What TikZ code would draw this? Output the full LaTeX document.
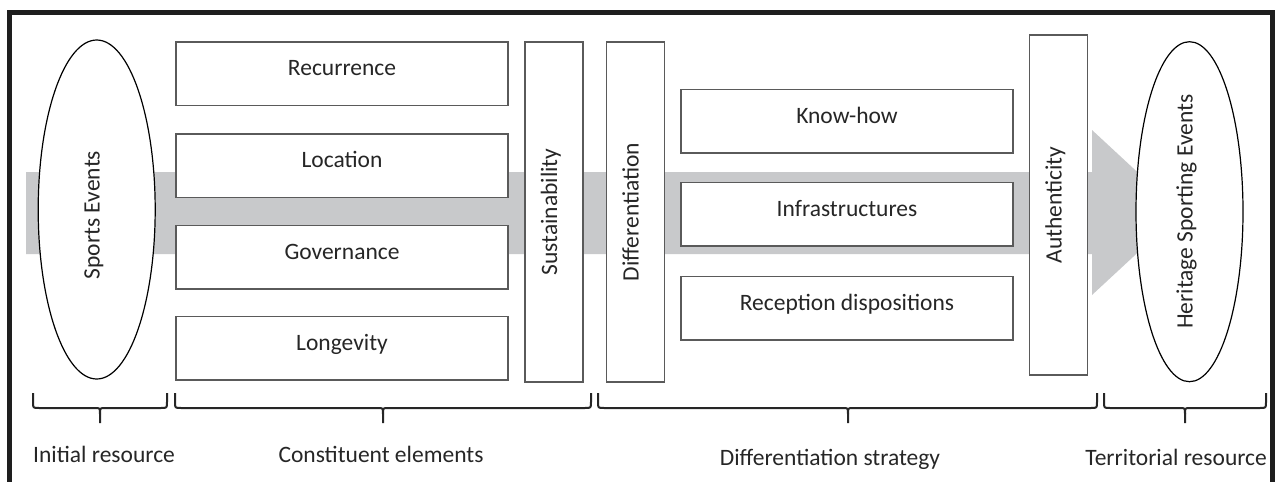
\documentclass[tikz,border=0pt]{standalone}
\usepackage{fontspec}
\setmainfont{Carlito}
\usetikzlibrary{shapes.geometric}
\definecolor{bandgray}{HTML}{C8C9CB}
\definecolor{boxline}{HTML}{5A5A5A}
\definecolor{ink}{HTML}{262626}
\definecolor{framecol}{HTML}{1E1E1E}

% curly group brace: left end, middle tip, right end (x positions)
\newcommand{\groupbrace}[3]{%
  \draw[bracestyle] (#1,393) -- (#1,402) .. controls (#1,408) .. ({#1+6},408)
    -- ({#2-5},408) .. controls (#2,408) .. (#2,414) -- (#2,423);
  \draw[bracestyle] (#2,414) .. controls (#2,408) .. ({#2+5},408)
    -- ({#3-6},408) .. controls (#3,408) .. (#3,402) -- (#3,393);
}

\begin{document}
\begin{tikzpicture}[x=1pt,y=-1pt,
  every node/.style={font=\fontsize{23.5}{28}\selectfont, text=ink},
  hbox/.style={draw=boxline, line width=1.5pt, fill=white, rectangle,
    minimum width=332pt, minimum height=63.5pt,
    text height=16pt, text depth=12pt, inner sep=0pt},
  vbox/.style={draw=boxline, line width=1.5pt, fill=white, rectangle,
    minimum width=340pt, minimum height=58pt, rotate=90,
    text height=17pt, text depth=11pt, inner sep=0pt},
  oval/.style={draw=black, line width=1.2pt, fill=white, ellipse,
    rotate=90, inner sep=0pt, text height=17pt, text depth=11pt},
  bracestyle/.style={draw=ink, line width=2pt, line cap=butt},
  grouplabel/.style={inner sep=0pt, anchor=base}
]
\useasboundingbox (0,0) rectangle (1280,482);

% broad grey arrow running through the whole process
\fill[bandgray] (26,172) -- (1092,172) -- (1092,130) -- (1181,212.5)
  -- (1092,295) -- (1092,254) -- (26,254) -- cycle;

% initial and territorial resources
\node[oval, minimum width=339pt, minimum height=117pt] (sports) at (96.7,209.5) {Sports Events\hspace*{11pt}};
\node[oval, minimum width=340pt, minimum height=107pt] (heritage) at (1189.5,211.7) {Heritage Sporting Events};

% constituent elements
\node[hbox] (recurrence) at (342,73.5) {Recurrence};
\node[hbox] (location)   at (342,165.5) {Location};
\node[hbox] (governance) at (342,257) {Governance};
\node[hbox] (longevity)  at (342,348.4) {Longevity};
\node[vbox] (sustain) at (554,212) {Sustainability};

% differentiation strategy
\node[vbox] (diff) at (635.5,212) {Differentiation};
\node[hbox] (knowhow) at (847,121) {Know-how};
\node[hbox] (infra)   at (847,214) {Infrastructures};
\node[hbox] (recept)  at (847,308) {Reception dispositions};
\node[vbox] (auth) at (1058.5,205) {Authenticity};

% outer frame (open at the bottom)
\draw[framecol, line width=5pt, line join=miter]
  (9.5,482) -- (9.5,12.5) -- (1272.5,12.5) -- (1272.5,482);

% group braces and their captions
\groupbrace{33}{100}{167}
\groupbrace{175}{383}{591}
\groupbrace{598}{848}{1097}
\groupbrace{1104}{1185}{1266}

\node[grouplabel, anchor=base west] (initial) at (33,462) {Initial resource};
\node[grouplabel] (constituent) at (381,462) {Constituent elements};
\node[grouplabel] (strategy) at (830,465) {Differentiation strategy};
\node[grouplabel, anchor=base east] (territorial) at (1267,465) {Territorial resource};
\end{tikzpicture}
\end{document}
